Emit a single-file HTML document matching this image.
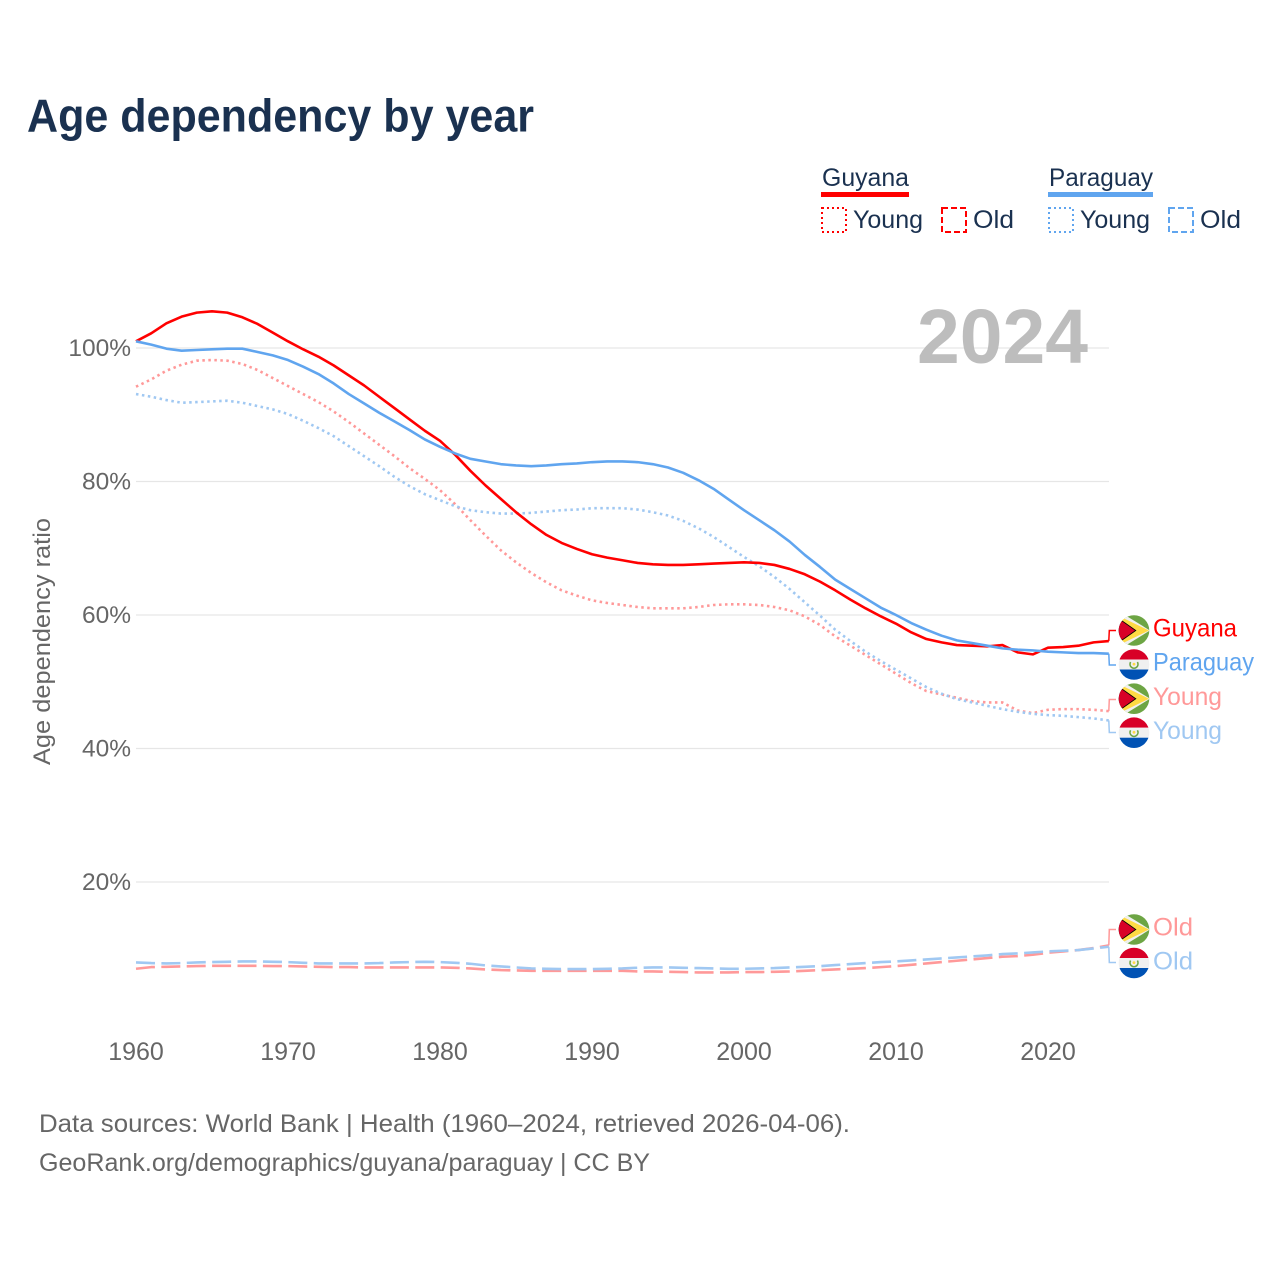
<!DOCTYPE html>
<html lang="en">
<head>
<meta charset="utf-8">
<title>Age dependency by year</title>
<style>
html,body{margin:0;padding:0;background:#fff;}
svg{display:block;font-family:"Liberation Sans",sans-serif;}
</style>
</head>
<body>
<svg id="chart" xmlns="http://www.w3.org/2000/svg" width="1280" height="1280" viewBox="0 0 1280 1280">
  <defs>
    <clipPath id="flag-clip"><circle cx="0" cy="0" r="15.3"/></clipPath>
    <g id="flag-guyana" clip-path="url(#flag-clip)">
      <rect x="-16" y="-16" width="32" height="32" fill="#6da544"/>
      <polygon points="-16,-16 -10,-16 16,0 -10,16 -16,16" fill="#f0f0f0"/>
      <polygon points="-14,-14 15,0 -14,14" fill="#ffda44"/>
      <polygon points="-16,-13 2.5,0 -16,13" fill="#000"/>
      <polygon points="-16,-12 1,0 -16,12" fill="#d80027"/>
    </g>
    <g id="flag-paraguay" clip-path="url(#flag-clip)">
      <rect x="-16" y="-16" width="32" height="11" fill="#d80027"/>
      <rect x="-16" y="-5" width="32" height="10" fill="#f0f0f0"/>
      <rect x="-16" y="5" width="32" height="11" fill="#0052b4"/>
      <path d="M-3.4,-2.4 A4,4 0 1,0 3.4,-2.4" fill="none" stroke="#6da544" stroke-width="1.6"/>
      <circle cx="0" cy="-0.4" r="1.4" fill="#ffda44"/>
    </g>
  </defs>

  <rect x="0" y="0" width="1280" height="1280" fill="#fff"/>

  <text x="27" y="131.5" font-size="46" font-weight="700" fill="#1a3150" textLength="507" lengthAdjust="spacingAndGlyphs">Age dependency by year</text>

  <g fill="#1a3150" font-size="25">
    <text x="822" y="186" textLength="87" lengthAdjust="spacingAndGlyphs">Guyana</text>
    <rect x="821" y="192" width="88" height="5" fill="#ff0000"/>
    <rect x="822" y="208" width="24" height="24" fill="none" stroke="#ff0000" stroke-width="2" stroke-dasharray="2 3"/>
    <text x="853" y="228" textLength="70" lengthAdjust="spacingAndGlyphs">Young</text>
    <rect x="942" y="208" width="24" height="24" fill="none" stroke="#ff0000" stroke-width="2" stroke-dasharray="6 3"/>
    <text x="973" y="228" textLength="41" lengthAdjust="spacingAndGlyphs">Old</text>

    <text x="1049" y="186" textLength="104" lengthAdjust="spacingAndGlyphs">Paraguay</text>
    <rect x="1048" y="192" width="105" height="5" fill="#60a5ef"/>
    <rect x="1049" y="208" width="24" height="24" fill="none" stroke="#60a5ef" stroke-width="2" stroke-dasharray="2 3"/>
    <text x="1080" y="228" textLength="70" lengthAdjust="spacingAndGlyphs">Young</text>
    <rect x="1169" y="208" width="24" height="24" fill="none" stroke="#60a5ef" stroke-width="2" stroke-dasharray="6 3"/>
    <text x="1200" y="228" textLength="41" lengthAdjust="spacingAndGlyphs">Old</text>
  </g>

  <g id="grid"></g>
  <g id="y-ticks"></g>
  <g id="x-ticks"></g>

  <text transform="translate(50,641.5) rotate(-90)" text-anchor="middle" font-size="24" fill="#666" textLength="247" lengthAdjust="spacingAndGlyphs">Age dependency ratio</text>

  <text x="917" y="363" font-size="77" font-weight="700" fill="#bdbdbd" textLength="171" lengthAdjust="spacingAndGlyphs">2024</text>

  <g id="series"></g>

  <g font-size="25">
    <use href="#flag-guyana" x="1134" y="630.5"/>
    <text x="1153" y="636.5" fill="#ff0000" textLength="84" lengthAdjust="spacingAndGlyphs">Guyana</text>
    <use href="#flag-paraguay" x="1134" y="664.5"/>
    <text x="1153" y="670.5" fill="#60a5ef" textLength="101" lengthAdjust="spacingAndGlyphs">Paraguay</text>
    <use href="#flag-guyana" x="1134" y="698.7"/>
    <text x="1153" y="705" fill="#ff9999" textLength="69" lengthAdjust="spacingAndGlyphs">Young</text>
    <use href="#flag-paraguay" x="1134" y="732.7"/>
    <text x="1153" y="739" fill="#a0c8f2" textLength="69" lengthAdjust="spacingAndGlyphs">Young</text>
    <use href="#flag-guyana" x="1134" y="929.5"/>
    <text x="1153" y="935.5" fill="#ff9999" textLength="40" lengthAdjust="spacingAndGlyphs">Old</text>
    <use href="#flag-paraguay" x="1134" y="963"/>
    <text x="1153" y="969.5" fill="#a0c8f2" textLength="40" lengthAdjust="spacingAndGlyphs">Old</text>
  </g>

  <g font-size="25" fill="#666">
    <text x="39" y="1132" textLength="811" lengthAdjust="spacingAndGlyphs">Data sources: World Bank | Health (1960–2024, retrieved 2026-04-06).</text>
    <text x="39" y="1171" textLength="611" lengthAdjust="spacingAndGlyphs">GeoRank.org/demographics/guyana/paraguay | CC BY</text>
  </g>
</svg>

<script>
var firstYear = 1960;
var xTickYears = [1960, 1970, 1980, 1990, 2000, 2010, 2020];
var yTickValues = [100, 80, 60, 40, 20];
var yTickLabels = ["100%", "80%", "60%", "40%", "20%"];

var guyanaOld = [
  7.0, 7.25, 7.3, 7.35, 7.4, 7.45, 7.45, 7.45, 7.45, 7.4,
  7.4, 7.35, 7.3, 7.25, 7.25, 7.2, 7.2, 7.2, 7.2, 7.2,
  7.2, 7.15, 7.05, 6.9, 6.8, 6.75, 6.7, 6.7, 6.7, 6.7,
  6.7, 6.7, 6.7, 6.6, 6.6, 6.55, 6.5, 6.45, 6.45, 6.45,
  6.5, 6.5, 6.55, 6.6, 6.7, 6.8, 6.9, 7.0, 7.1, 7.25,
  7.4, 7.6, 7.8, 8.0, 8.2, 8.4, 8.6, 8.8, 8.9, 9.1,
  9.4, 9.6, 9.8, 10.1, 10.5
];
var paraguayOld = [
  7.95, 7.85, 7.8, 7.85, 7.95, 8.0, 8.05, 8.1, 8.1, 8.05,
  8.0, 7.9, 7.8, 7.8, 7.8, 7.8, 7.85, 7.95, 8.0, 8.05,
  8.0, 7.9, 7.75, 7.5, 7.35, 7.2, 7.05, 7.0, 6.95, 6.95,
  6.95, 7.0, 7.05, 7.15, 7.2, 7.2, 7.15, 7.1, 7.05, 7.0,
  7.0, 7.05, 7.1, 7.2, 7.3, 7.4, 7.55, 7.7, 7.85, 8.0,
  8.1, 8.25, 8.4, 8.55, 8.7, 8.85, 9.0, 9.2, 9.3, 9.45,
  9.6, 9.7, 9.8, 10.05, 10.3
];
var guyanaYoung = [
  94.2, 95.3, 96.6, 97.5, 98.1, 98.2, 98.1, 97.6, 96.7, 95.5,
  94.3, 93.1, 91.9, 90.5, 88.9, 87.2, 85.5, 83.8, 82.0, 80.4,
  78.7, 76.6, 74.2, 71.9, 69.7, 67.9, 66.3, 64.9, 63.7, 62.9,
  62.2, 61.8, 61.5, 61.2, 61.0, 61.0, 61.0, 61.2, 61.5, 61.6,
  61.6, 61.5, 61.2, 60.7, 59.8, 58.5, 56.8, 55.4, 54.0, 52.6,
  51.2, 49.8, 48.6, 48.1, 47.6, 47.1, 46.9, 46.9, 45.7, 45.3,
  45.8, 45.9, 45.9, 45.8, 45.6
];
var paraguayYoung = [
  93.1, 92.7, 92.2, 91.8, 91.9, 92.0, 92.1, 91.8, 91.3, 90.8,
  90.1, 89.1, 88.0, 86.8, 85.3, 83.8, 82.3, 80.7, 79.3, 78.1,
  77.2, 76.3, 75.7, 75.4, 75.2, 75.2, 75.3, 75.5, 75.7, 75.8,
  76.0, 76.0, 76.0, 75.8, 75.4, 74.9, 74.1, 73.0, 71.7, 70.2,
  68.7, 67.3, 65.7, 63.9, 61.9, 59.9, 57.8, 56.1, 54.5, 53.1,
  51.8, 50.5, 49.2, 48.2, 47.4, 46.9, 46.4, 45.9, 45.5, 45.2,
  45.0, 44.9, 44.7, 44.5, 44.2
];
var guyanaTotal = [
  101.0, 102.2, 103.7, 104.7, 105.3, 105.5, 105.3, 104.6, 103.6, 102.3,
  101.0, 99.8, 98.7, 97.4, 95.9, 94.4, 92.7, 91.0, 89.3, 87.6,
  86.1, 84.0, 81.6, 79.4, 77.4, 75.4, 73.6, 72.0, 70.8, 69.9,
  69.1, 68.6, 68.2, 67.8, 67.6, 67.5, 67.5, 67.6, 67.7, 67.8,
  67.9, 67.8, 67.5, 66.9, 66.1, 65.0, 63.7, 62.3, 61.0, 59.8,
  58.7, 57.4, 56.4, 55.9, 55.5, 55.4, 55.3, 55.5, 54.4, 54.1,
  55.1, 55.2, 55.4, 55.9, 56.1
];
var paraguayTotal = [
  101.0, 100.5, 99.9, 99.6, 99.7, 99.8, 99.9, 99.9, 99.4, 98.9,
  98.2, 97.2, 96.1, 94.7, 93.1, 91.7, 90.3, 89.0, 87.7, 86.3,
  85.2, 84.2, 83.4, 83.0, 82.6, 82.4, 82.3, 82.4, 82.6, 82.7,
  82.9, 83.0, 83.0, 82.9, 82.6, 82.1, 81.3, 80.2, 78.9, 77.3,
  75.7, 74.2, 72.7, 71.0, 69.0, 67.2, 65.3, 63.9, 62.5, 61.1,
  60.0, 58.8, 57.8, 56.9, 56.2, 55.8, 55.4, 55.0, 54.8, 54.7,
  54.5, 54.4, 54.3, 54.3, 54.2
];

var SVG_NS = "http://www.w3.org/2000/svg";

function xScale(year) {
  return 136 + (year - 1960) * 15.2;
}
function yScale(value) {
  return 1015.5 - value * 6.675;
}
function make(tag, attrs, parent) {
  var el = document.createElementNS(SVG_NS, tag);
  for (var k in attrs) { el.setAttribute(k, attrs[k]); }
  parent.appendChild(el);
  return el;
}

var gridGroup = document.getElementById("grid");
var yTickGroup = document.getElementById("y-ticks");
var xTickGroup = document.getElementById("x-ticks");
var seriesGroup = document.getElementById("series");

yTickValues.forEach(function (value, i) {
  var line = make("line", {x1: 136, x2: 1109, y1: yScale(value), y2: yScale(value), stroke: "#e6e6e6", "stroke-width": 1.2}, gridGroup);
  
  
  var label = make("text", {x: 131, y: yScale(value) + 8, "text-anchor": "end", "font-size": 24.5, fill: "#666"}, yTickGroup);
  
  
  label.textContent = yTickLabels[i];
});

xTickYears.forEach(function (year) {
  var label = make("text", {x: xScale(year), y: 1060, "text-anchor": "middle", "font-size": 25, fill: "#666"}, xTickGroup);
  
  
  label.textContent = String(year);
});

function drawSeries(values, color, dash, width, labelY, lineName, connectorName) {
  var d = values.map(function (v, i) {
    return (i ? "L" : "M") + xScale(firstYear + i).toFixed(2) + " " + yScale(v).toFixed(2);
  }).join("");
  var path = make("path", {d: d, fill: "none", stroke: color, "stroke-width": width, "stroke-linejoin": "round"}, seriesGroup);
  if (dash) { path.setAttribute("stroke-dasharray", dash); }
  
  

  var endX = xScale(firstYear + values.length - 1);
  var endY = yScale(values[values.length - 1]);
  var conn = make("path", {
    d: "M" + endX.toFixed(2) + " " + endY.toFixed(2) + "L" + (endX + 0.5).toFixed(2) + " " + labelY + "L1116 " + labelY,
    fill: "none", stroke: color, "stroke-width": 1.5
  }, seriesGroup);
  
  
}

drawSeries(guyanaOld, "#ff9999", "19 6.4", 2.6, 929.5, "line-guyana-old", "connector-guyana-old");
drawSeries(paraguayOld, "#a0c8f2", "19 6.4", 2.6, 962.5, "line-paraguay-old", "connector-paraguay-old");
drawSeries(guyanaYoung, "#ff9999", "2.5 3.5", 2.6, 699.5, "line-guyana-young", "connector-guyana-young");
drawSeries(paraguayYoung, "#a0c8f2", "2.5 3.5", 2.6, 732.5, "line-paraguay-young", "connector-paraguay-young");
drawSeries(guyanaTotal, "#ff0000", null, 2.6, 630.5, "line-guyana-total", "connector-guyana-total");
drawSeries(paraguayTotal, "#60a5ef", null, 2.6, 665, "line-paraguay-total", "connector-paraguay-total");
</script>
</body>
</html>
